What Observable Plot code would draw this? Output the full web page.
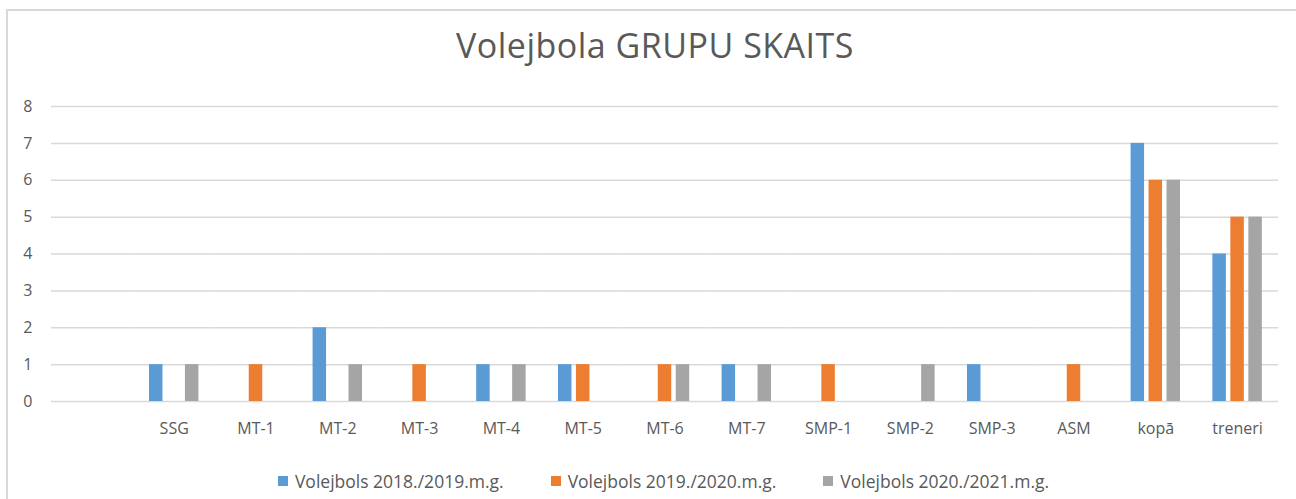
<!DOCTYPE html>
<html>
<head>
<meta charset="utf-8">
<script src="https://cdn.jsdelivr.net/npm/d3@7"></script>
<script src="https://cdn.jsdelivr.net/npm/@observablehq/plot@0.6"></script>
<style>
  body { margin:0; width:1296px; height:499px; overflow:hidden; position:relative; background:#fff; font-family: "Open Sans", sans-serif; color:#595959; }
  #frame { position:absolute; left:6px; top:9px; width:1400px; height:600px; border:2px solid #d9d9d9; pointer-events:none; }
  #title { height:90px; box-sizing:border-box; padding-top:27px; font-size:34px; letter-spacing:0.5px; line-height:36px; text-align:center; padding-left:14px; white-space:nowrap; }
  #chart { height:360px; }
  #legend { height:49px; box-sizing:border-box; padding-top:13px; display:flex; justify-content:center; gap:47px; font-size:17.5px; line-height:18px; padding-left:31px; white-space:nowrap; }
  .item { display:flex; align-items:center; }
  .sw { width:10px; height:10px; margin-right:7px; display:inline-block; }
</style>
</head>
<body>
<div id="frame"></div>
<div id="title">Volejbola GRUPU SKAITS</div>
<div id="chart"></div>
<div id="legend"></div>
<script>
const categories = ["", "SSG", "MT-1", "MT-2", "MT-3", "MT-4", "MT-5", "MT-6", "MT-7", "SMP-1", "SMP-2", "SMP-3", "ASM", "kopā", "treneri"];
const series = ["Volejbols 2018./2019.m.g.", "Volejbols 2019./2020.m.g.", "Volejbols 2020./2021.m.g."];
const v2018 = [0, 1, 0, 2, 0, 1, 1, 0, 1, 0, 0, 1, 0, 7, 4];
const v2019 = [0, 0, 1, 0, 1, 0, 1, 1, 0, 1, 0, 0, 1, 6, 5];
const v2020 = [0, 1, 0, 1, 0, 1, 0, 1, 1, 0, 1, 0, 0, 6, 5];
const colors = ["#5b9bd5", "#ed7d31", "#a5a5a5"];
const yTicks = [0, 1, 2, 3, 4, 5, 6, 7, 8];

const values = [v2018, v2019, v2020];
const data = [];
categories.forEach((c, i) => series.forEach((s, j) => data.push({category: c, series: s, value: values[j][i]})));

const chart = Plot.plot({
  width: 1296,
  height: 360,
  marginTop: 16,
  marginBottom: 49,
  marginLeft: 51,
  marginRight: 18,
  style: {fontFamily: "'Open Sans', sans-serif", color: "#595959", background: "transparent"},
  fx: {domain: categories, padding: 0, round: false},
  x: {domain: series, paddingInner: 0.25, paddingOuter: 0.9, round: false, axis: null},
  y: {domain: [0, 8]},
  color: {domain: series, range: colors},
  marks: [
    Plot.ruleY(yTicks, {stroke: "#d9d9d9", strokeWidth: 1.5}),
    Plot.axisY({ticks: yTicks, tickSize: 0, tickPadding: 19, fontSize: 16, label: null, color: "#595959"}),
    Plot.axisFx({anchor: "bottom", tickSize: 0, tickPadding: 21, fontSize: 16, label: null, color: "#595959"}),
    Plot.barY(data, {fx: "category", x: "series", y: "value", fill: "series"})
  ]
});
document.getElementById("chart").appendChild(chart);

const legend = document.getElementById("legend");
series.forEach((s, i) => {
  const item = document.createElement("div");
  item.className = "item";
  const sw = document.createElement("span");
  sw.className = "sw";
  sw.style.background = colors[i];
  item.appendChild(sw);
  item.appendChild(document.createTextNode(s));
  legend.appendChild(item);
});
</script>
</body>
</html>
